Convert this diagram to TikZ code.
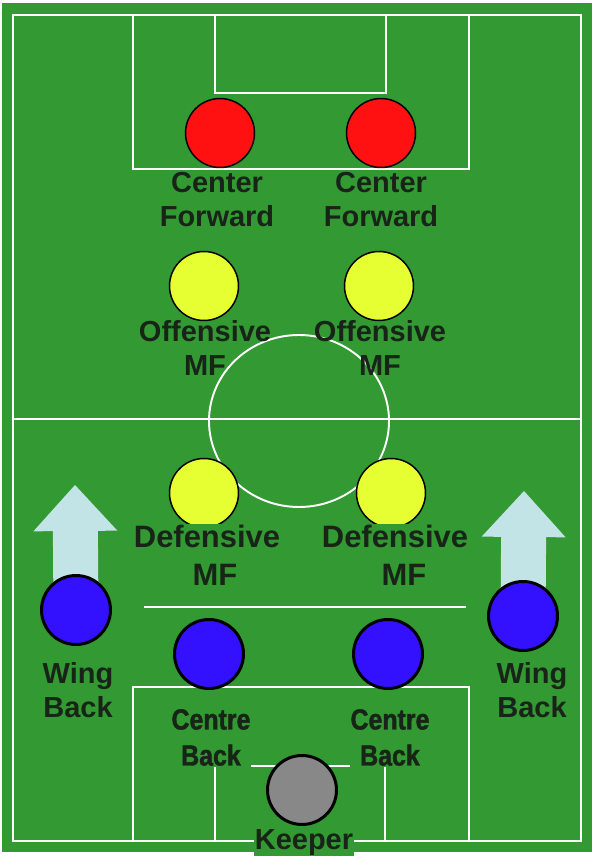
\documentclass[tikz,border=0pt]{standalone}
\usepackage{fontspec}
\usepackage{graphicx}
\setmainfont{Liberation Sans}
\usetikzlibrary{arrows.meta,backgrounds}
\definecolor{pitch}{RGB}{51,153,51}
\definecolor{ink}{RGB}{24,36,24}
\definecolor{fwd}{RGB}{255,17,17}
\definecolor{mid}{RGB}{230,255,51}
\definecolor{back}{RGB}{51,17,255}
\definecolor{keep}{RGB}{136,136,136}
\definecolor{push}{RGB}{195,228,230}
\newcommand{\squeeze}[1]{\scalebox{0.86}[1]{#1}}

\begin{document}
\begin{tikzpicture}[x = 0.02cm, y = -0.02cm]
\tikzstyle{Player}=[shape = circle,
                    minimum size = 1.38cm,
                    inner sep = 0pt,
                    draw = black, line width = 0.85pt]
\tikzstyle{Tag}=[anchor = north, align = center,
                 inner sep = 0.5pt, fill = pitch, text = ink,
                 font = \fontsize{16.5}{19.3}\selectfont\bfseries]
\tikzstyle{Line}=[draw = white, line width = 1.4pt]
\tikzstyle{Push}=[draw = push, line width = 0.9cm,
                  -{Triangle[length = 0.92cm, width = 1.68cm, line width = 0pt]}]

\useasboundingbox (0,0) rectangle (600,857);
\begin{scope}[on background layer]
\fill[white] (0,0) rectangle (600,857);
\fill[pitch] (2,3) rectangle (592,852);
\end{scope}

% pitch markings
\draw[Line] (13,15) rectangle (581,841);
\draw[Line, line width = 1.1pt] (13,419) -- (581,419);
\draw[Line] (133,15) rectangle (469,169);
\draw[Line] (215,15) rectangle (386,93);
\draw[Line, line width = 1.1pt] (133,841) rectangle (469,687);
\draw[Line, line width = 1.1pt] (215,841) rectangle (385,766);
\draw[Line, line width = 1pt] (144,607) -- (466,607);
\draw[Line, line width = 1.1pt] (299,421) ellipse [x radius = 90, y radius = 86];

% players
\node[Player, fill = fwd] (v0) at (220,133) {};
\node[Player, fill = fwd] (v1) at (381,133) {};
\node[Player, fill = mid] (v2) at (204,286) {};
\node[Player, fill = mid] (v3) at (379,286) {};
\node[Player, fill = mid] (v4) at (204,493) {};
\node[Player, fill = mid] (v5) at (391,493) {};
\node[Player, fill = back, line width = 1.7pt] (v6) at (76,610) {};
\node[Player, fill = back, line width = 1.7pt] (v7) at (523,616) {};
\node[Player, fill = back, line width = 1.7pt] (v8) at (209,654) {};
\node[Player, fill = back, line width = 1.7pt] (v9) at (388,654) {};
\node[Player, fill = keep, line width = 1.7pt] (v10) at (302,790) {};

% names
\node[Tag, fill = none] (l0) at (217,171) {Center\\Forward};
\node[Tag, fill = none] (l1) at (381,171) {Center\\Forward};
\node[Tag, fill = none] (l2) at (205,319) {Offensive\\MF};
\node[Tag, fill = none] (l3) at (380,319) {Offensive\\MF};
\node[Tag, font = \fontsize{17.6}{19.8}\selectfont\bfseries] (l4) at (207,524) {Defensive\\[0.06cm]\hspace*{0.32cm}MF};
\node[Tag, font = \fontsize{17.6}{19.8}\selectfont\bfseries] (l5) at (395,524) {Defensive\\[0.06cm]\hspace*{0.36cm}MF};
\node[Tag] (l6) at (78,661) {Wing\\Back};
\node[Tag] (l7) at (532,661) {Wing\\Back};
\node[Tag, font = \fontsize{16.5}{20.5}\selectfont\bfseries\addfontfeature{FakeBold=1.5}] (l8) at (211,708) {\squeeze{Centre}\\\squeeze{Back}};
\node[Tag, font = \fontsize{16.5}{20.5}\selectfont\bfseries\addfontfeature{FakeBold=1.5}] (l9) at (390,708) {\squeeze{Centre}\\\squeeze{Back}};
\node[Tag] (l10) at (304,828) {Keeper};

% wing backs push up
\coordinate (t0) at (75,485);
\coordinate (t1) at (524,491);
\begin{scope}[on background layer]
\draw[Push] (v6.center) -- (t0);
\draw[Push] (v7.center) -- (t1);
\end{scope}
\end{tikzpicture}
\end{document}
